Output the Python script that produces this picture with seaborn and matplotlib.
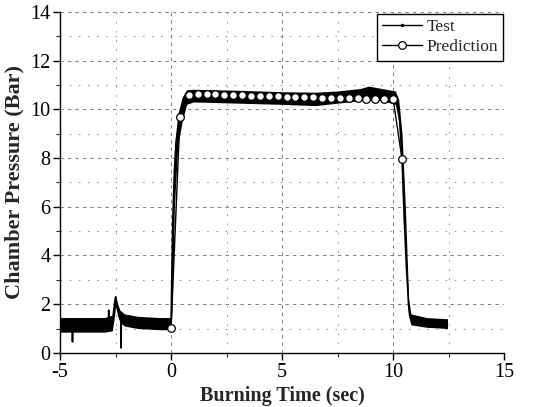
import numpy as np
import pandas as pd
import matplotlib
matplotlib.use('Agg')
import matplotlib.pyplot as plt
from matplotlib.lines import Line2D
from matplotlib.ticker import MultipleLocator
import seaborn as sns

test_t = [-5.0, -4.6, -4.45, -4.44, -4.43, -4.0, -3.5, -3.0, -2.82, -2.81, -2.80, -2.65,
          -2.55, -2.5, -2.4, -2.3, -2.26, -2.25, -2.24, -2.1, -1.8, -1.5, -1.0, -0.5, 0.0,
          0.03, 0.08, 0.15, 0.25, 0.4, 0.55, 0.7, 0.9, 1.0, 2.0, 3.0, 4.0, 5.0, 6.0, 6.5,
          7.0, 7.5, 8.0, 8.5, 9.0, 9.5, 10.0, 10.15, 10.2, 10.3, 10.4, 10.5, 10.6, 10.7,
          10.75, 10.85, 11.2, 11.8, 12.4]
test_p = [1.15, 1.15, 1.15, 0.45, 1.15, 1.15, 1.15, 1.15, 1.15, 1.75, 1.2, 1.2,
          2.0, 2.3, 1.8, 1.55, 1.5, 0.2, 1.5, 1.4, 1.3, 1.25, 1.2, 1.2, 1.15,
          3.0, 5.5, 7.5, 8.8, 9.6, 10.2, 10.5, 10.6, 10.6, 10.55, 10.5, 10.48, 10.45, 10.42, 10.42,
          10.48, 10.5, 10.55, 10.65, 10.68, 10.62, 10.55, 10.5, 10.3, 9.5, 8.0, 5.5, 3.5, 1.9,
          1.5, 1.4, 1.35, 1.3, 1.2]

# noise envelope of the measured trace
band_t = [-5.0, -3.0, -2.65, -2.55, -2.5, -2.4, -2.3, -2.1, -1.5, -0.5, 0.0, 0.05, 0.15,
          0.3, 0.5, 0.7, 1.0, 3.0, 5.0, 6.5, 7.5, 8.5, 8.9, 9.5, 10.1, 10.25, 10.4, 10.55,
          10.7, 10.8, 11.5, 12.45]
band_lo = [0.85, 0.85, 0.9, 1.5, 1.9, 1.5, 1.25, 1.1, 1.0, 0.95, 0.95, 2.0, 6.0,
           8.5, 9.5, 10.2, 10.3, 10.25, 10.2, 10.15, 10.25, 10.35, 10.4, 10.35, 10.2, 9.5, 7.5, 4.5,
           1.5, 1.15, 1.05, 1.0]
band_hi = [1.45, 1.45, 1.55, 2.2, 2.35, 2.0, 1.75, 1.6, 1.5, 1.45, 1.45, 5.0, 8.5,
           9.8, 10.5, 10.8, 10.82, 10.78, 10.72, 10.7, 10.75, 10.85, 10.95, 10.85, 10.75, 10.4, 9.0, 6.0,
           2.2, 1.6, 1.45, 1.4]

# predicted chamber pressure
pred_t = [0.0, 0.4, 0.8, 1.2, 1.6, 2.0, 2.4, 2.8, 3.2, 3.6, 4.0, 4.4, 4.8, 5.2,
          5.6, 6.0, 6.4, 6.8, 7.2, 7.6, 8.0, 8.4, 8.8, 9.2, 9.6, 10.0, 10.4]
pred_p = [1.02, 9.7, 10.57, 10.63, 10.63, 10.62, 10.6, 10.59, 10.58, 10.56, 10.55, 10.54, 10.53, 10.52,
          10.51, 10.5, 10.49, 10.48, 10.47, 10.46, 10.45, 10.45, 10.44, 10.43, 10.42, 10.42, 7.95]

test = pd.DataFrame({'t': test_t, 'p': test_p})
pred = pd.DataFrame({'t': pred_t, 'p': pred_p})

sns.set_style('ticks')
plt.rcParams['font.family'] = ['Liberation Serif', 'DejaVu Serif']
plt.rcParams['axes.unicode_minus'] = False

fig = plt.figure(figsize=(5.51, 4.07), dpi=100)
ax = fig.add_axes([0.109, 0.133, 0.806, 0.838])

ax.fill_between(band_t, band_lo, band_hi, color='black', lw=0, zorder=2)
sns.lineplot(data=test, x='t', y='p', color='black', lw=1.2, sort=False, ax=ax, zorder=3)
sns.lineplot(data=pred, x='t', y='p', color='black', lw=1.0, marker='o', markersize=5.5,
             markerfacecolor='white', markeredgecolor='black', markeredgewidth=0.9,
             sort=False, ax=ax, zorder=4)

ax.set_xlim(-5, 15)
ax.set_ylim(0, 14)
ax.xaxis.set_major_locator(MultipleLocator(5))
ax.xaxis.set_minor_locator(MultipleLocator(2.5))
ax.yaxis.set_major_locator(MultipleLocator(2))
ax.yaxis.set_minor_locator(MultipleLocator(1))
ax.grid(which='major', color='0.4', lw=0.6, ls=(0, (4, 5)))
ax.grid(which='minor', color='0.5', lw=0.6, ls=(0, (2, 9)))
ax.tick_params(which='major', direction='out', length=5, width=1, labelsize=14.5,
               colors='black', pad=2)
ax.tick_params(which='minor', direction='out', length=3, width=0.8)
sns.despine(ax=ax)
for s in ['left', 'bottom']:
    ax.spines[s].set_linewidth(1.0)
    ax.spines[s].set_color('black')

ax.set_xlabel('Burning Time (sec)', fontsize=14.5, fontweight='bold', labelpad=3)
ax.set_ylabel('Chamber Pressure (Bar)', fontsize=16, fontweight='bold', labelpad=4)

handles = [Line2D([], [], color='black', lw=1.0, marker='.', markersize=3),
           Line2D([], [], color='black', lw=1.0, marker='o', markersize=5.5,
                  markerfacecolor='white', markeredgewidth=0.9)]
leg = ax.legend(handles, ['Test', 'Prediction'], loc='upper right', fontsize=12.5,
                frameon=True, fancybox=False, edgecolor='black', framealpha=1,
                handlelength=2.3, handletextpad=0.25, borderpad=0.3, labelspacing=0.25,
                borderaxespad=0.0, bbox_to_anchor=(0.998, 0.995))
leg.get_frame().set_linewidth(1.0)

fig.savefig('out.png', dpi=100)
